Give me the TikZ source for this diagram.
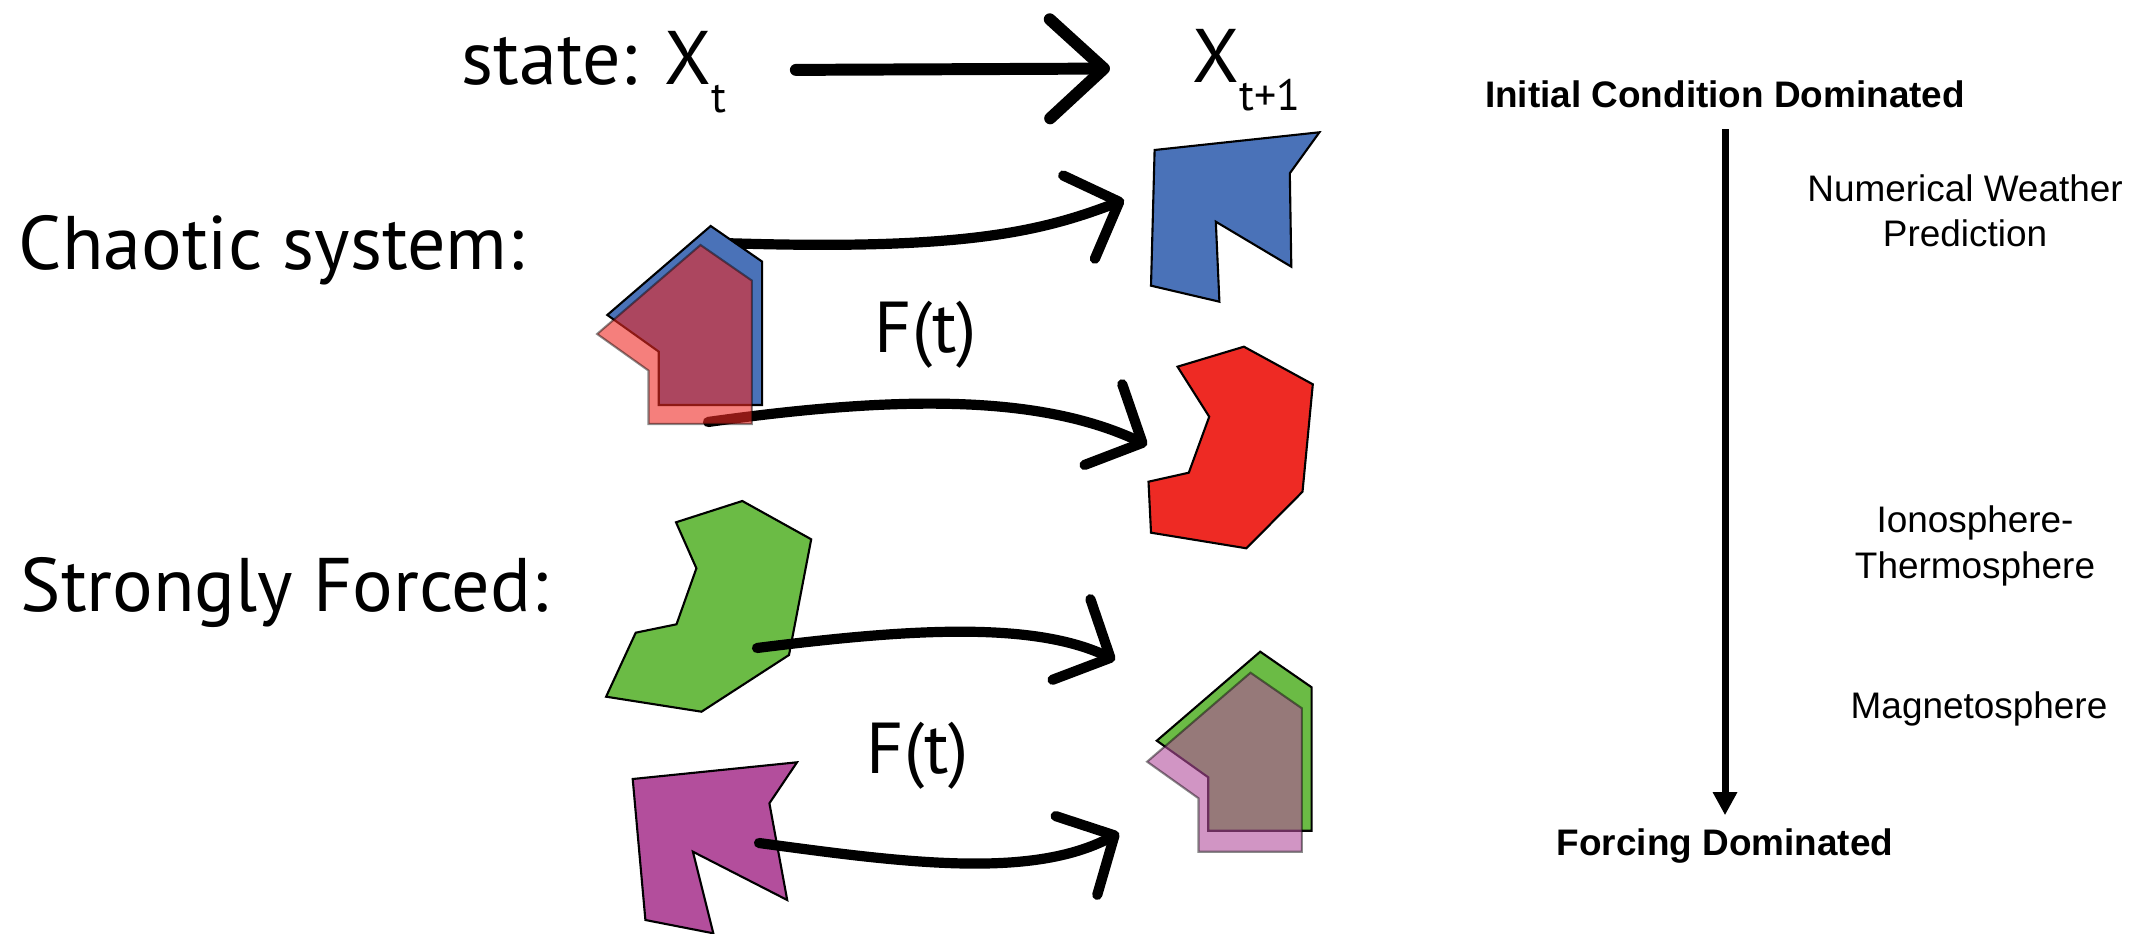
\documentclass[tikz,border=0pt]{standalone}
\usepackage{fontspec}
\setmainfont{PT Sans}
\newfontfamily\helv{Liberation Sans}
\usetikzlibrary{arrows.meta, positioning}
\definecolor{azul}{HTML}{4A72B8}
\definecolor{rojo}{HTML}{EE2A24}
\definecolor{verde}{HTML}{6BBB45}
\definecolor{morado}{HTML}{B34E9C}
\newcommand{\subind}[1]{\raisebox{-0.27cm}{\fontsize{12.5}{14}\selectfont #1}}
\tikzset{
  rotulo/.style={inner sep=0pt, font=\fontsize{21.6}{26}\selectfont},
  fuerza/.style={inner sep=0pt, font=\fontsize{20.5}{25}\selectfont},
  escala/.style={font=\helv\fontsize{10.5}{12.8}\selectfont, align=center, inner sep=0pt},
  escalab/.style={font=\helv\bfseries\fontsize{10.5}{12.8}\selectfont, inner sep=3.5pt},
  forma/.style={draw=black, line width=0.6pt},
  format/.style={draw=black, draw opacity=0.45, fill opacity=0.6, line width=0.6pt},
  flecha/.style={line width=2.9pt, line cap=round, -{Straight Barb[length=4.3mm,width=8.9mm,round]}},
  flechagrande/.style={line width=3.4pt, line cap=round, -{Straight Barb[length=5.4mm,width=9.9mm,round]}},
  flechav/.style={line width=2pt, -{Triangle[length=2.3mm,width=2.3mm]}}
}
\begin{document}
\begin{tikzpicture}[x=0.01cm, y=-0.01cm]
  \useasboundingbox (0,0) rectangle (2149,934);
  % textos de la izquierda
  \node (caotico) [rotulo, anchor=base west] at (18,270) {Chaotic system:};
  \node (forzado) [rotulo, anchor=base west] at (20,612) {Strongly Forced:};
  \node (estado) [rotulo, anchor=base west] at (461,85) {state: X\subind{t}};
  \node (siguiente) [rotulo, anchor=base west] at (1192,83) {X\subind{t+1}};
  \node (fuerza1) [fuerza, anchor=base] at (926,353) {F(t)};
  \node (fuerza2) [fuerza, anchor=base] at (918,773) {F(t)};
  \draw [flechagrande, shorten <=0.69cm, shorten >=0.82cm] ([yshift=0.06cm]estado.mid east) -- ([yshift=0.06cm]siguiente.mid west);

  % sistema caotico
  \coordinate (ini1) at (722,243);
  \coordinate (fin1) at (1124,200);
  \coordinate (ini2) at (708,422);
  \coordinate (fin2) at (1147,445);
  \draw [flecha] (ini1) .. controls +(240,8) and +(-84,32) .. (fin1);
  \draw [flecha] (ini2) .. controls +(192,-27) and +(-107,-50) .. (fin2);
  \draw [forma, fill=azul, shift={(710.7,226)}] (0,0) -- (51.4,35.6) -- (51.4,179) -- (-52,179) -- (-52,125.6) -- (-103.4,89) -- cycle;
  \draw [format, fill=rojo, shift={(700.5,245)}] (0,0) -- (51.4,35.6) -- (51.4,179) -- (-52,179) -- (-52,125.6) -- (-103.4,89) -- cycle;
  \draw [forma, fill=azul] (1154.6,150) -- (1319.4,132.3) -- (1289.8,173.3) -- (1291.3,266.7) -- (1215.8,221.7) -- (1219.4,301.7) -- (1151,285.7) -- cycle;
  \draw [forma, fill=rojo] (1243.9,346.7) -- (1312.8,384.3) -- (1302.5,491.7) -- (1246.4,548.3) -- (1151,532.7) -- (1148.5,481.7) -- (1188.8,472.7) -- (1209.2,416.7) -- (1177.5,366.7) -- cycle;

  % sistema forzado
  \draw [forma, fill=verde] (742.3,501) -- (811.2,539.3) -- (789,655) -- (701.5,711.7) -- (606.1,696.7) -- (635.7,632.7) -- (676.5,624.3) -- (696.4,568.3) -- (676,522.3) -- cycle;
  \draw [forma, fill=morado] (632.7,779) -- (797,762.3) -- (769.4,803.3) -- (787.2,900) -- (692.9,851.7) -- (713.3,933.3) -- (645.4,920) -- cycle;
  \draw [forma, fill=verde, shift={(1260.2,651.7)}] (0,0) -- (51.4,35.6) -- (51.4,179) -- (-52,179) -- (-52,125.6) -- (-103.4,89) -- cycle;
  \draw [format, fill=morado, shift={(1250.5,672.7)}] (0,0) -- (51.4,35.6) -- (51.4,179) -- (-52,179) -- (-52,125.6) -- (-103.4,89) -- cycle;
  \coordinate (ini3) at (757,648);
  \coordinate (fin3) at (1115,660);
  \coordinate (ini4) at (759,843);
  \coordinate (fin4) at (1119,833);
  \draw [flecha] (ini3) .. controls +(143,-18) and +(-85,-40) .. (fin3);
  \draw [flecha] (ini4) .. controls +(141,19) and +(-89,47) .. (fin4);

  % escala de la derecha
  \node (inicial) [escalab, anchor=base] at (1725,108) {Initial Condition Dominated};
  \node (forzamiento) [escalab, anchor=base] at (1725,855) {Forcing Dominated};
  \node (nwp) [escala, anchor=base] at (1965,247) {Numerical Weather\\ Prediction};
  \node (ionotermo) [escala, anchor=base] at (1975,578) {Ionosphere-\\ Thermosphere};
  \node (magneto) [escala, anchor=base] at (1979,718) {Magnetosphere};
  \draw [flechav, shorten <=0.08cm] (inicial) -- (forzamiento);
\end{tikzpicture}
\end{document}
